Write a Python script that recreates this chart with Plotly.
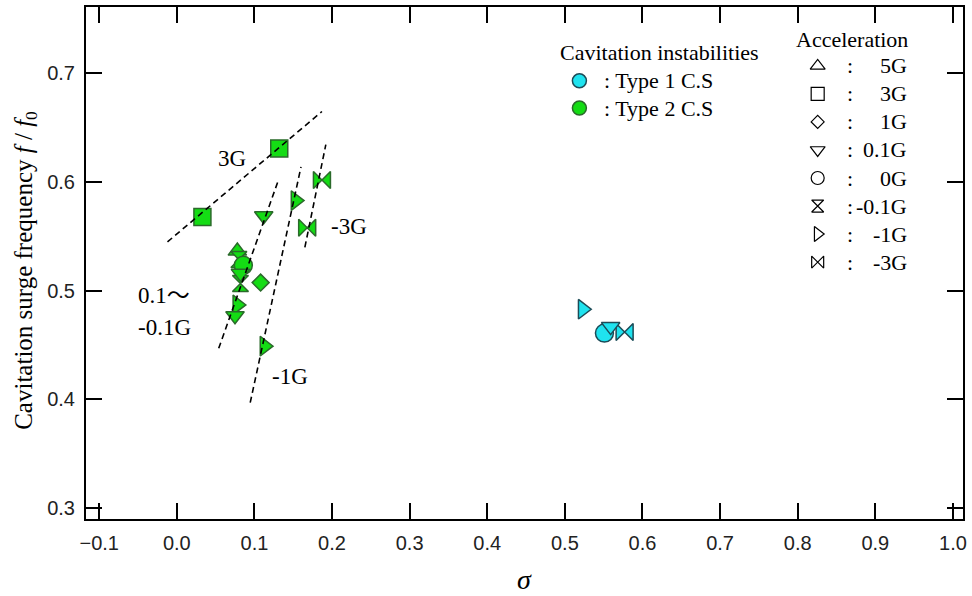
import plotly.graph_objects as go

# ---------------- data ----------------
# Type 1 cavitation surge (cyan)
t1_sigma = [0.577, 0.551, 0.559, 0.523]
t1_freq = [0.462, 0.461, 0.467, 0.483]
t1_accel = ["-3G", "0G", "0.1G", "-1G"]

# Type 2 cavitation surge (green)
t2_sigma = [0.033, 0.132, 0.187, 0.168, 0.153, 0.113, 0.078, 0.112, 0.075,
            0.108, 0.082, 0.078, 0.080, 0.0857, 0.082]
t2_freq = [0.568, 0.631, 0.602, 0.558, 0.583, 0.449, 0.487, 0.569, 0.477,
           0.5075, 0.5066, 0.5365, 0.5287, 0.5234, 0.516]
t2_accel = ["3G", "3G", "-3G", "-3G", "-1G", "-1G", "-1G", "0.1G", "0.1G",
            "1G", "-0.1G", "5G", "-0.1G", "0G", "0.1G"]

# dashed guide lines (sigma, f/f0 endpoints)
guide_3G_x = [-0.012, 0.187]
guide_3G_y = [0.545, 0.665]
guide_01_x = [0.054, 0.130]
guide_01_y = [0.447, 0.600]
guide_m1_x = [0.0946, 0.160]
guide_m1_y = [0.397, 0.614]
guide_m3_x = [0.165, 0.192]
guide_m3_y = [0.540, 0.6345]

accel_labels = ["5G", "3G", "1G", "0.1G", "0G", "-0.1G", "-1G", "-3G"]
type_labels = ["Type 1 C.S", "Type 2 C.S"]

x_ticks = [-0.1, 0.0, 0.1, 0.2, 0.3, 0.4, 0.5, 0.6, 0.7, 0.8, 0.9, 1.0]
y_ticks = [0.3, 0.4, 0.5, 0.6, 0.7]

# ---------------- styles ----------------
SYM = {"5G": "triangle-up", "3G": "square", "1G": "diamond", "0.1G": "triangle-down",
       "0G": "circle", "-0.1G": "hourglass", "-1G": "triangle-right", "-3G": "bowtie"}
SIZE = {"5G": 16, "3G": 17, "1G": 13, "0.1G": 16, "0G": 18, "-0.1G": 16,
        "-1G": 17, "-3G": 17}
LSIZE = {"5G": 13, "3G": 13, "1G": 10, "0.1G": 13, "0G": 13, "-0.1G": 12,
         "-1G": 13, "-3G": 12}
CYAN, CYAN_LINE = "#1fe3ef", "#1c4b57"
GREEN, GREEN_LINE = "#14dc14", "#2b6a2b"
SERIF = "Liberation Serif, Times New Roman, Noto Sans CJK JP, serif"
SANS = "Liberation Sans, Arial, sans-serif"

fig = go.Figure()

def add_points(xs, ys, accs, fill, line):
    for x, y, a in zip(xs, ys, accs):
        fig.add_trace(go.Scatter(
            x=[x], y=[y], mode="markers", showlegend=False, hoverinfo="skip",
            marker=dict(symbol=SYM[a], size=SIZE[a], color=fill,
                        line=dict(color=line, width=1.5))))

add_points(t1_sigma, t1_freq, t1_accel, CYAN, CYAN_LINE)
add_points(t2_sigma, t2_freq, t2_accel, GREEN, GREEN_LINE)

for gx, gy in [(guide_3G_x, guide_3G_y), (guide_01_x, guide_01_y),
               (guide_m1_x, guide_m1_y), (guide_m3_x, guide_m3_y)]:
    fig.add_trace(go.Scatter(x=gx, y=gy, mode="lines", showlegend=False,
                             hoverinfo="skip",
                             line=dict(color="black", width=1.6, dash="6px,4px")))

# ---------------- custom legend (overlay axes in plot-fraction units) ----------------
leg_type_y0, leg_dy = 0.8558, 0.0532
fig.add_trace(go.Scatter(
    x=[0.5626, 0.5626], y=[leg_type_y0, leg_type_y0 - leg_dy],
    xaxis="x2", yaxis="y2", mode="markers", showlegend=False, hoverinfo="skip",
    marker=dict(symbol="circle", size=14, color=[CYAN, GREEN],
                line=dict(color=[CYAN_LINE, GREEN_LINE], width=1.5))))

acc_y0, acc_dy = 0.885, 0.05475
for i, a in enumerate(accel_labels):
    fig.add_trace(go.Scatter(
        x=[0.8343], y=[acc_y0 - i * acc_dy], xaxis="x2", yaxis="y2",
        mode="markers", showlegend=False, hoverinfo="skip",
        marker=dict(symbol=SYM[a] + "-open", size=LSIZE[a], color="black",
                    line=dict(color="black", width=1.2))))

ann = []
def txt(x, y, s, size=22, xanchor="center", font=SERIF):
    ann.append(dict(x=x, y=y, xref="paper", yref="paper", text=s, showarrow=False,
                    xanchor=xanchor, yanchor="middle",
                    font=dict(family=font, size=size, color="black")))

txt(0.6535, 0.912, "Cavitation instabilities")
for i, t in enumerate(type_labels):
    txt(0.588, leg_type_y0 - i * leg_dy, ": " + t, xanchor="left")
txt(0.8729, 0.936, "Acceleration")
for i, a in enumerate(accel_labels):
    yy = acc_y0 - i * acc_dy
    txt(0.8712, yy, ":")
    txt(0.938, yy, a, xanchor="right")

# in-plot labels
txt(0.166, 0.705, "3G", size=23)
txt(0.277, 0.571, "-3G", size=23, xanchor="left")
txt(0.057, 0.437, "0.1～", size=23, xanchor="left")
txt(0.057, 0.374, "-0.1G", size=23, xanchor="left")
txt(0.2325, 0.279, "-1G", size=23)

# axis titles
txt(0.5, -0.118, "<i>σ</i>", size=28)
ann.append(dict(x=-0.069, y=0.4857, xref="paper", yref="paper",
                text="Cavitation surge frequency <i>f</i> / <i>f</i><sub>0</sub>",
                showarrow=False, textangle=-90, xanchor="center", yanchor="middle",
                font=dict(family=SERIF, size=25, color="black")))

axis_common = dict(showgrid=False, zeroline=False, showline=True, linecolor="black",
                   linewidth=2, mirror="ticks", ticks="inside", ticklen=16,
                   tickwidth=1.5, tickcolor="black",
                   tickfont=dict(family=SANS, size=20, color="#222"))

fig.update_layout(
    width=972, height=596, margin=dict(l=86, r=5, t=6, b=77),
    paper_bgcolor="white", plot_bgcolor="white", showlegend=False,
    xaxis=dict(range=[-0.117, 1.013], tickvals=x_ticks, tickformat=".1f",
               ticklabelstandoff=5, **axis_common),
    yaxis=dict(range=[0.2899, 0.7612], tickvals=y_ticks, tickformat=".1f",
               ticklabelstandoff=5, **axis_common),
    xaxis2=dict(range=[0, 1], overlaying="x", visible=False),
    yaxis2=dict(range=[0, 1], overlaying="y", visible=False),
    annotations=ann,
)

fig.write_html("out.html")
